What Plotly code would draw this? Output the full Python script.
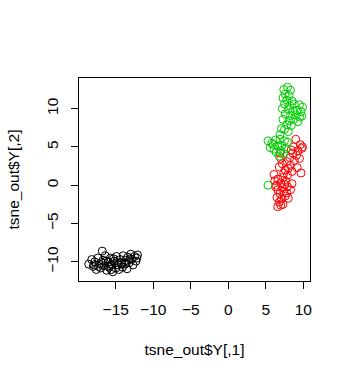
import plotly.graph_objects as go

black_x = [-18.6,-18.2,-18.0,-17.8,-17.6,-17.4,-17.2,-17.0,-16.8,-16.7,-16.5,-16.4,-16.2,-16.0,-15.9,-15.7,-15.5,-15.4,-15.2,-15.0,-14.9,-14.7,-14.6,-14.4,-14.3,-14.1,-14.0,-13.8,-13.7,-13.5,-13.4,-13.2,-13.0,-12.9,-12.7,-12.5,-12.3,-12.1,-17.9,-16.9,-15.8,-15.3,-14.8,-14.2,-13.6,-13.1,-16.3,-17.3,-15.6,-12.2]
black_y = [-10.3,-9.7,-10.6,-10.0,-11.0,-9.5,-10.3,-10.8,-8.6,-9.8,-10.5,-9.2,-11.1,-10.0,-10.7,-9.5,-10.3,-11.3,-9.9,-10.8,-9.3,-10.4,-11.0,-9.7,-10.1,-10.7,-9.2,-10.3,-9.8,-10.9,-9.4,-10.1,-9.0,-9.7,-10.4,-9.3,-9.9,-9.1,-10.4,-10.1,-10.5,-9.6,-10.1,-10.3,-10.2,-9.6,-9.9,-10.6,-11.0,-9.5]

green_x = [7.9,7.4,8.3,7.6,8.1,7.3,7.8,8.5,7.5,8.2,8.8,9.5,9.9,7.2,8.0,8.6,9.2,9.7,7.6,8.3,9.0,9.5,7.3,8.1,8.7,9.3,7.8,8.4,7.5,8.0,7.1,6.9,9.8,
           5.3,5.8,6.3,6.9,7.5,7.9,5.6,6.1,6.6,7.2,7.7,6.4,7.0,7.4,6.8,6.0,5.3]
green_y = [12.8,12.5,12.4,11.9,11.7,11.4,11.1,11.0,10.6,10.4,10.6,10.5,10.2,10.0,9.9,9.7,9.8,9.6,9.3,9.1,9.2,8.9,8.6,8.4,8.6,8.3,7.9,7.8,7.3,7.0,7.4,6.6,9.0,
           5.8,5.5,5.9,6.0,5.8,5.6,4.9,4.7,5.1,5.2,4.8,4.3,4.5,4.1,3.8,5.3,0.0]

red_x = [9.0,9.6,9.8,9.3,8.7,9.1,8.6,9.5,8.2,8.8,7.8,8.3,7.2,9.2,7.6,8.5,9.7,6.8,7.9,7.0,8.0,9.9,8.4,6.9,
         7.3,6.6,7.0,7.7,6.4,7.2,7.9,6.6,7.4,8.3,6.9,7.6,6.5,7.1,8.0,6.8,7.3,6.6,7.0,8.5,6.3,7.5,7.8,6.2,6.1,7.4]
red_y = [6.0,5.3,4.8,4.5,5.0,3.9,4.2,3.5,3.6,3.2,3.1,2.6,2.8,2.3,2.0,1.8,1.6,2.4,1.3,3.5,2.2,5.0,4.6,4.2,
         1.0,0.8,0.3,0.5,0.0,-0.3,-0.2,-0.6,-0.8,-0.6,-1.1,-1.4,-1.6,-1.8,-1.7,-2.2,-2.5,-2.8,-2.6,0.2,-0.2,0.1,-1.0,0.6,1.4,1.6]

x_ticks = [-15, -10, -5, 0, 5, 10]
y_ticks = [-10, -5, 0, 5, 10]

fig = go.Figure()
for xs, ys, col in [(black_x, black_y, "#000000"), (red_x, red_y, "#FF0000"), (green_x, green_y, "#00CD00")]:
    fig.add_trace(go.Scatter(x=xs, y=ys, mode="markers",
                             marker=dict(symbol="circle-open", size=8, color=col, line=dict(width=1, color=col)),
                             showlegend=False, hoverinfo="skip"))

font = dict(family="Liberation Sans, Arial, sans-serif", size=15.5, color="#000000")
fig.update_layout(
    width=351, height=380,
    margin=dict(l=79, r=41, t=78, b=99),
    paper_bgcolor="white", plot_bgcolor="white",
    font=font,
    xaxis=dict(range=[-19.9, 10.9], tickvals=x_ticks, ticks="outside", ticklen=7, tickcolor="#000",
               showgrid=False, zeroline=False, showline=True, linecolor="#000", linewidth=1, mirror=True,
               ticklabelstandoff=7,
               title=dict(text="tsne_out$Y[,1]", standoff=27, font=font)),
    yaxis=dict(range=[-12.5, 14.0], tickvals=y_ticks, ticks="outside", ticklen=7, tickcolor="#000",
               showgrid=False, zeroline=False, showline=True, linecolor="#000", linewidth=1, mirror=True,
               tickangle=-90, ticklabelstandoff=7,
               title=dict(text="tsne_out$Y[,2]", standoff=20, font=font)),
)
fig.write_html("out.html")
